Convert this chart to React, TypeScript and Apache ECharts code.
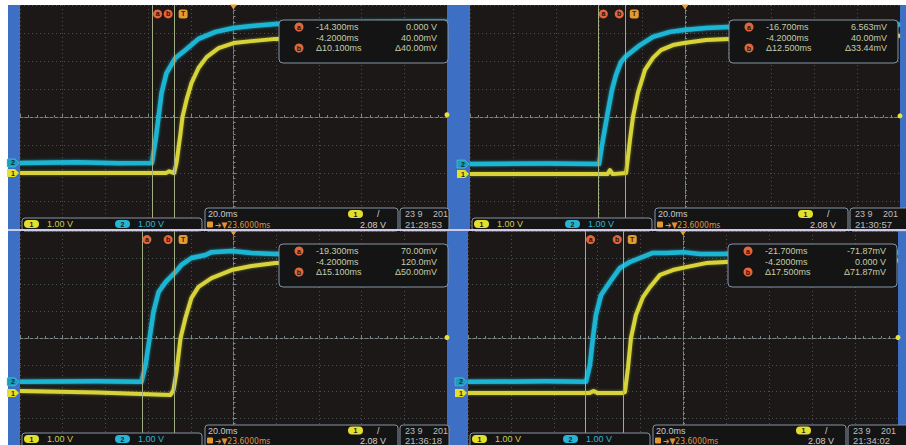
import { useEffect, useRef } from 'react';
import * as echarts from 'echarts';

// ---- scope settings ----
const H_POS = 23.6; // ms, trigger to screen centre
const TIME_DIV = 20; // ms per division
const trigLevel = 2.08; // V
const ch1ScaleText = '1.00 V';
const ch2ScaleText = '1.00 V';
const timebaseText = '20.0ms';
const delayText = '➔▼23.6000ms';
const trigLevelText = '2.08 V';
const dateText = '23 9';
const yearText = '201';

// ---- cursor values per screenshot (TL, TR, BL, BR) ----
const cursorA = [-14.3, -16.7, -19.3, -21.7];
const cursorB = [-4.2, -4.2, -4.2, -4.2];
const readATime = ['-14.300ms', '-16.700ms', '-19.300ms', '-21.700ms'];
const readAVolt = ['0.000 V', '6.563mV', '70.00mV', '-71.87mV'];
const readBTime = ['-4.2000ms', '-4.2000ms', '-4.2000ms', '-4.2000ms'];
const readBVolt = ['40.00mV', '40.00mV', '120.0mV', '0.000 V'];
const readDTime = ['Δ10.100ms', 'Δ12.500ms', 'Δ15.100ms', 'Δ17.500ms'];
const readDVolt = ['Δ40.00mV', 'Δ33.44mV', 'Δ50.00mV', 'Δ71.87mV'];
const clockTimes = ['21:29:53', '21:30:57', '21:36:18', '21:34:02'];

// channel ground offsets (divisions)
const ch1Offset = [-2.0, -2.04, -2.06, -2.06];
const ch2Offset = [-1.64, -1.68, -1.64, -1.64];

// ---- traces: time (ms from trigger), level (divisions) ----
const cyanTimeTL = [-76.4, -50, -30, -14.6, -12.9, -11.5, -10.1, -7.8, -3.6, 1.1, 7.2, 15.2, 23.6, 32.0, 43.3, 80, 123.6];
const cyanLevelTL = [-1.64, -1.62, -1.65, -1.64, -0.82, 0, 0.86, 1.57, 2.11, 2.39, 2.79, 3.04, 3.18, 3.25, 3.32, 3.38, 3.4];
const yellowTimeTL = [-76.4, -40, -8, -6.5, -4.2, -3.1, -1.2, -0.3, 1.6, 3.9, 7.2, 11.0, 16.6, 23.6, 32.0, 43.3, 80, 123.6];
const yellowLevelTL = [-2.0, -2.0, -2.0, -1.94, -2.0, -1.64, -0.57, 0, 0.61, 1.21, 1.75, 2.14, 2.46, 2.64, 2.71, 2.79, 2.86, 2.9];

const cyanTimeTR = [-76.4, -40, -16.4, -15.0, -12.7, -10.4, -8.5, -6.2, -4.3, 2.7, 8.7, 16.6, 23.1, 33.4, 43.6, 123.6];
const cyanLevelTR = [-1.68, -1.66, -1.68, -1.0, 0, 0.96, 1.5, 1.96, 2.14, 2.57, 2.86, 3.04, 3.11, 3.18, 3.21, 3.3];
const yellowTimeTR = [-76.4, -12.5, -11.3, -10.0, -3.8, -2.0, -0.6, 1.7, 5.0, 8.7, 12.4, 18.0, 23.1, 33.4, 43.6, 123.6];
const yellowLevelTR = [-2.04, -2.04, -1.9, -2.04, -2.0, -0.82, 0, 0.86, 1.68, 2.11, 2.39, 2.57, 2.64, 2.75, 2.79, 2.9];

const cyanTimeBL = [-76.4, -40, -19.5, -17.6, -15.7, -13.9, -11.5, -8.2, -5.9, -3.5, -0.8, 3.9, 10.5, 13.3, 22.7, 32.0, 43.3, 123.6];
const cyanLevelBL = [-1.64, -1.62, -1.64, -1.01, 0, 0.97, 1.72, 2.09, 2.28, 2.47, 2.73, 2.99, 3.1, 3.21, 3.25, 3.18, 3.14, 3.2];
const yellowTimeBL = [-76.4, -40, -5.9, -4.5, -3.1, -1.2, 1.1, 3.9, 7.2, 13.3, 22.7, 32.0, 43.3, 123.6];
const yellowLevelBL = [-1.98, -2.04, -2.13, -1.94, -1.27, 0, 0.75, 1.5, 1.91, 2.24, 2.54, 2.69, 2.8, 2.9];

const cyanTimeBR = [-76.4, -40, -21.5, -19.7, -18.3, -16.9, -14.5, -10.4, -5.7, -1.1, 3.6, 9.6, 15.7, 23.6, 31.5, 40.8, 123.6];
const cyanLevelBR = [-1.64, -1.62, -1.64, -1.01, 0, 0.86, 1.61, 2.09, 2.62, 2.84, 2.99, 3.18, 3.18, 3.21, 3.14, 3.14, 3.2];
const yellowTimeBR = [-76.4, -20, -18, -16, -4.8, -3.4, -2.0, -0.6, 1.7, 5.0, 8.3, 12.9, 18.9, 25.0, 34.3, 43.6, 123.6];
const yellowLevelBR = [-2.06, -2.06, -1.98, -2.06, -2.06, -2.02, -1.12, 0, 0.86, 1.53, 1.91, 2.36, 2.54, 2.65, 2.8, 2.84, 2.9];

const cyanTimes = [cyanTimeTL, cyanTimeTR, cyanTimeBL, cyanTimeBR];
const cyanLevels = [cyanLevelTL, cyanLevelTR, cyanLevelBL, cyanLevelBR];
const yellowTimes = [yellowTimeTL, yellowTimeTR, yellowTimeBL, yellowTimeBR];
const yellowLevels = [yellowLevelTL, yellowLevelTR, yellowLevelBL, yellowLevelBR];

// ---- layout ----
const LAYOUT = [
  { left: 20, top: 5, width: 427, height: 224, leftBoxTop: 218, midTop: 208, row1: 214, row2: 224.5, bottom: 229, boxX: 279, boxY: 20, rightEdge: 449 },
  { left: 470, top: 5, width: 430, height: 224, leftBoxTop: 218, midTop: 208, row1: 214, row2: 224.5, bottom: 229, boxX: 729, boxY: 20, rightEdge: 910 },
  { left: 20, top: 231, width: 427, height: 214, leftBoxTop: 433, midTop: 425, row1: 430.5, row2: 440.5, bottom: 449, boxX: 279, boxY: 244, rightEdge: 449 },
  { left: 468, top: 231, width: 430, height: 214, leftBoxTop: 433, midTop: 425, row1: 430.5, row2: 440.5, bottom: 449, boxX: 728, boxY: 244, rightEdge: 910 },
];

const BLUE = '#3d6fc4';
const PLOT_BG = '#1b1817';
const GRID_C = '#4a5354';
const CENTER_C = '#7a8686';
const CYAN = '#1fb5d3';
const YELLOW = '#d8d33a';
const CURSOR_C = '#a3ad84';
const ORANGE = '#e0663c';
const READ_C = '#c3cca8';
const BOX_STROKE = '#8594a4';
const BOX_FILL = '#151414';
const FONT = '"Liberation Sans", Arial, sans-serif';

function txt(x: number, y: number, text: string, fill: string, size = 9, align = 'left', weight = 'normal', family = FONT) {
  return {
    type: 'text', x, y, z: 52,
    style: { text, fill, fontSize: size, fontFamily: family, fontWeight: weight, align, textAlign: align, verticalAlign: 'middle', textVerticalAlign: 'middle' },
  };
}
function rect(x: number, y: number, w: number, h: number, fill: string, stroke?: string, r = 0, z = 51) {
  return { type: 'rect', z, shape: { x, y, width: w, height: h, r }, style: { fill, stroke: stroke || 'none', lineWidth: stroke ? 1 : 0 } };
}
function pill(x: number, y: number, label: string, fill: string) {
  return [rect(x, y, 15, 8, fill, undefined, 4, 52), { ...txt(x + 7.5, y + 4.3, label, '#1a1a10', 7, 'center', 'bold'), z: 53 }];
}

function panelGraphics(i: number) {
  const L = LAYOUT[i];
  const px = L.left;
  const els: any[] = [];
  // readout box
  const bx = L.boxX, by = L.boxY;
  els.push(rect(bx, by, 169, 43, BOX_FILL, BOX_STROKE, 4));
  els.push({ type: 'circle', z: 52, shape: { cx: bx + 20, cy: by + 7, r: 4.5 }, style: { fill: ORANGE } });
  els.push({ ...txt(bx + 20, by + 7.3, 'a', '#2a0e06', 7, 'center', 'bold'), z: 53 });
  els.push({ type: 'circle', z: 52, shape: { cx: bx + 20, cy: by + 28, r: 4.5 }, style: { fill: ORANGE } });
  els.push({ ...txt(bx + 20, by + 28.3, 'b', '#2a0e06', 7, 'center', 'bold'), z: 53 });
  els.push(txt(bx + 37, by + 7, readATime[i], READ_C));
  els.push(txt(bx + 158, by + 7, readAVolt[i], READ_C, 9, 'right'));
  els.push(txt(bx + 37, by + 18, readBTime[i], READ_C));
  els.push(txt(bx + 158, by + 18, readBVolt[i], READ_C, 9, 'right'));
  els.push(txt(bx + 37, by + 28, readDTime[i], READ_C));
  els.push(txt(bx + 158, by + 28, readDVolt[i], READ_C, 9, 'right'));

  // status bar: channel box
  const lt = L.leftBoxTop;
  els.push(rect(px + 2, lt, 180, L.bottom - lt + 2, BOX_FILL, BOX_STROKE, 3));
  els.push(...pill(px + 4, lt + 2, '1', '#e4df2c'));
  els.push(txt(px + 27, lt + 6, ch1ScaleText, '#cfcd56'));
  els.push(...pill(px + 95, lt + 2, '2', '#27b4d6'));
  els.push(txt(px + 118, lt + 6, ch2ScaleText, '#34b6cf'));

  // timebase / trigger box
  const mt = L.midTop;
  els.push(rect(px + 185, mt, 193, L.bottom - mt + 2, BOX_FILL, BOX_STROKE, 3));
  els.push(txt(px + 188, L.row1, timebaseText, '#c9c9c9'));
  els.push(rect(px + 187, L.row2 - 3, 6, 6, '#e39a30', undefined, 1, 52));
  els.push(txt(px + 195, L.row2, delayText, '#e0923a', 8.5, 'left', 'normal', '"DejaVu Sans Condensed", "DejaVu Sans", sans-serif'));
  els.push(...pill(px + 328, L.row1 - 4, '1', '#e4df2c'));
  els.push(txt(px + 357, L.row1, '/', '#d8d8d8', 9));
  els.push(txt(px + 366, L.row2, trigLevelText, '#d0d0d0', 9, 'right'));

  // date / clock box
  els.push(rect(px + 380, mt, L.rightEdge - (px + 380), L.bottom - mt + 2, BOX_FILL, BOX_STROKE, 3));
  els.push(txt(px + 385, L.row1, dateText, '#bdbdbd'));
  els.push(txt(px + 413, L.row1, yearText, '#bdbdbd'));
  els.push(txt(px + 385, L.row2, clockTimes[i], '#bdbdbd', 9.5));
  return els;
}

function buildOption() {
  const grids: any[] = [];
  const xAxes: any[] = [];
  const yAxes: any[] = [];
  const series: any[] = [];
  const axisCommon = {
    type: 'value',
    axisLabel: { show: false },
    axisLine: { show: true, onZero: true, lineStyle: { color: CENTER_C, type: [3, 2], width: 1 } },
    axisTick: { show: true, inside: true, length: 3, lineStyle: { color: CENTER_C } },
    minorTick: { show: true, splitNumber: 5, length: 2, lineStyle: { color: CENTER_C } },
    splitLine: { show: true, lineStyle: { color: GRID_C, type: [1, 3], width: 1 } },
  };
  LAYOUT.forEach((L, i) => {
    grids.push({ left: L.left, top: L.top, width: L.width, height: L.height, show: true, backgroundColor: PLOT_BG, borderWidth: 0, containLabel: false });
    xAxes.push({ ...axisCommon, gridIndex: i, min: -5 * TIME_DIV, max: 5 * TIME_DIV, interval: TIME_DIV });
    yAxes.push({ ...axisCommon, gridIndex: i, min: -4, max: 4, interval: 1 });
    const toScreen = (t: number) => t - H_POS;
    series.push({
      type: 'line', xAxisIndex: i, yAxisIndex: i, z: 3,
      showSymbol: false, symbol: 'none',
      data: cyanTimes[i].map((t, k) => [toScreen(t), cyanLevels[i][k]]),
      lineStyle: { color: CYAN, width: 4.5, shadowBlur: 3, shadowColor: 'rgba(30,190,220,0.7)', join: 'round' },
      markLine: {
        silent: true, symbol: ['none', 'none'], label: { show: false },
        lineStyle: { color: CURSOR_C, type: 'solid', width: 1 },
        data: [{ xAxis: toScreen(cursorA[i]) }, { xAxis: toScreen(cursorB[i]) }],
      },
      markPoint: {
        silent: true,
        data: [
          { coord: [toScreen(cursorA[i]), 3.68], symbol: 'circle', symbolSize: 9, symbolOffset: [5, 0], itemStyle: { color: ORANGE },
            label: { show: true, position: 'inside', formatter: 'a', color: '#2a0e06', fontSize: 7, fontWeight: 'bold' } },
          { coord: [toScreen(cursorB[i]), 3.68], symbol: 'circle', symbolSize: 9, symbolOffset: [-6, 0], itemStyle: { color: ORANGE },
            label: { show: true, position: 'inside', formatter: 'b', color: '#2a0e06', fontSize: 7, fontWeight: 'bold' } },
          { coord: [toScreen(0), 3.68], symbol: 'roundRect', symbolSize: 9, itemStyle: { color: '#e39a30' },
            label: { show: true, position: 'inside', formatter: 'T', color: '#3a2008', fontSize: 7, fontWeight: 'bold' } },
          { coord: [0, 4], symbol: 'triangle', symbolRotate: 180, symbolSize: [7, 5], symbolOffset: [0, 2], itemStyle: { color: '#e8a030' }, label: { show: false } },
          { coord: [5 * TIME_DIV, ch1Offset[i] + trigLevel], symbol: 'circle', symbolSize: 5, itemStyle: { color: '#e8e23c' }, label: { show: false } },
          { coord: [-5 * TIME_DIV, ch2Offset[i]], symbol: 'path://M0,0 L8,0 L12,4 L8,8 L0,8 Z', symbolSize: [12, 8], symbolOffset: [-7, 0],
            itemStyle: { color: '#1b9fb8', borderColor: '#5fd6ea', borderWidth: 0.5 },
            label: { show: true, position: 'inside', formatter: '2', color: '#0c2a30', fontSize: 7, fontWeight: 'bold' } },
          { coord: [-5 * TIME_DIV, ch1Offset[i]], symbol: 'path://M0,0 L8,0 L12,4 L8,8 L0,8 Z', symbolSize: [12, 8], symbolOffset: [-7, 0],
            itemStyle: { color: '#e4df2c' },
            label: { show: true, position: 'inside', formatter: '1', color: '#2a2a08', fontSize: 7, fontWeight: 'bold' } },
        ],
      },
    });
    series.push({
      type: 'line', xAxisIndex: i, yAxisIndex: i, z: 4,
      showSymbol: false, symbol: 'none',
      data: yellowTimes[i].map((t, k) => [toScreen(t), yellowLevels[i][k]]),
      lineStyle: { color: YELLOW, width: 4, shadowBlur: 3, shadowColor: 'rgba(150,170,40,0.7)', join: 'round' },
    });
  });

  const graphics: any[] = [
    rect(8, 5, 12, 440, BLUE, undefined, 0, 1),
    rect(447, 5, 23, 226, BLUE, undefined, 0, 1),
    rect(447, 231, 21, 214, BLUE, undefined, 0, 1),
    rect(900, 5, 6, 226, BLUE, undefined, 0, 1),
    rect(898, 231, 8, 214, BLUE, undefined, 0, 1),
  ];
  LAYOUT.forEach((_, i) => graphics.push(...panelGraphics(i)));
  graphics.push(rect(8, 229, 898, 2, '#cfcbe6', undefined, 0, 60));

  return {
    animation: false,
    backgroundColor: '#ffffff',
    grid: grids,
    xAxis: xAxes,
    yAxis: yAxes,
    series,
    graphic: { elements: graphics },
  };
}

export default function App() {
  const ref = useRef<HTMLDivElement>(null);
  useEffect(() => {
    if (!ref.current) return;
    const chart = echarts.init(ref.current, null, { renderer: 'svg' });
    chart.setOption(buildOption() as any);
    return () => chart.dispose();
  }, []);
  return <div ref={ref} style={{ position: 'absolute', left: 0, top: 0, width: 906, height: 445 }} />;
}
